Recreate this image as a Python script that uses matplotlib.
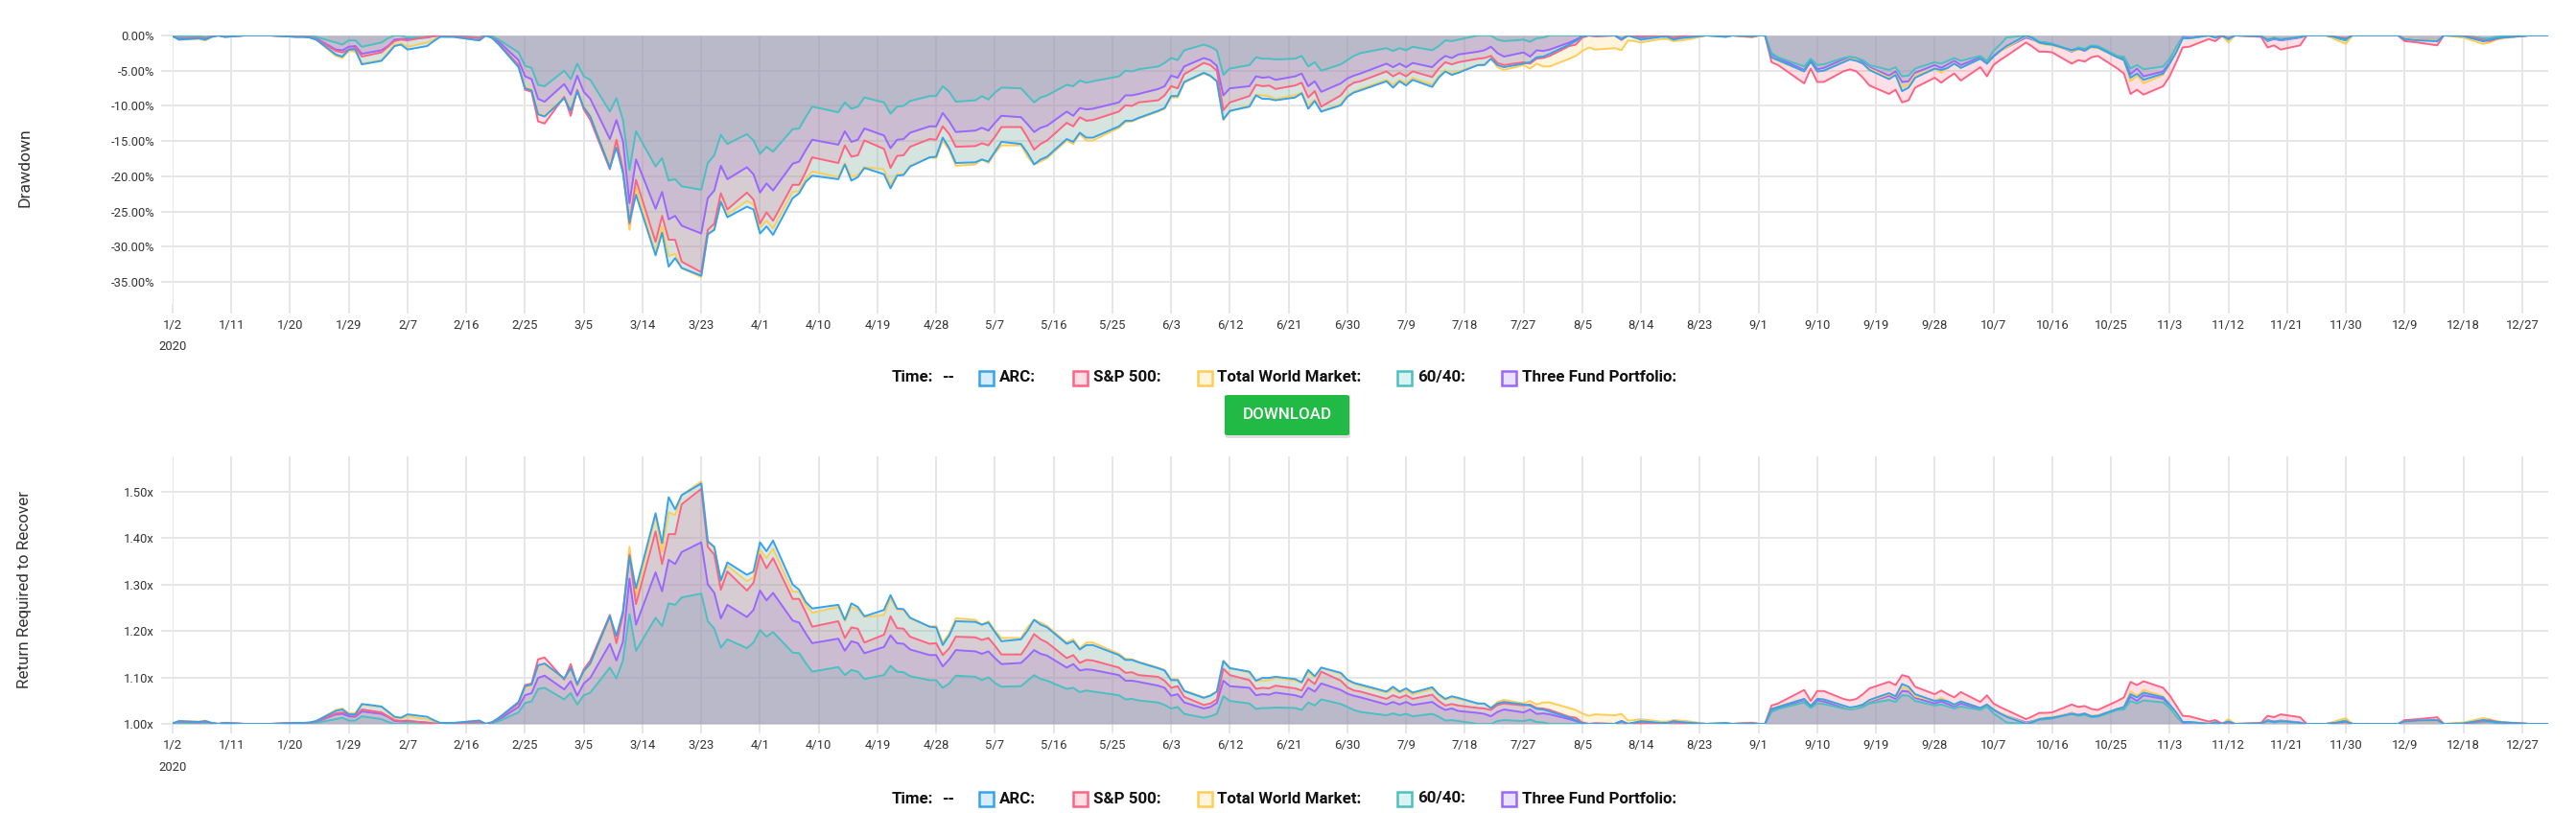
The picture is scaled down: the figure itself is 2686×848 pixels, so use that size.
import matplotlib
matplotlib.use("Agg")
import matplotlib.pyplot as plt
from matplotlib.patches import Rectangle, FancyBboxPatch
import pandas as pd
import numpy as np

# drawdown in % (trading days, 2020)
dates = ["01-02", "01-03", "01-06", "01-07", "01-08", "01-09", "01-10", "01-13", "01-17", "01-21",
         "01-22", "01-23", "01-24", "01-27", "01-28", "01-29", "01-30", "01-31", "02-03", "02-04",
         "02-05", "02-06", "02-07", "02-10", "02-11", "02-12", "02-13", "02-14", "02-18", "02-19",
         "02-20", "02-21", "02-24", "02-25", "02-26", "02-27", "02-28", "03-02", "03-03", "03-04",
         "03-05", "03-06", "03-09", "03-10", "03-11", "03-12", "03-13", "03-16", "03-17", "03-18",
         "03-19", "03-20", "03-23", "03-24", "03-25", "03-26", "03-27", "03-30", "03-31", "04-01",
         "04-02", "04-03", "04-06", "04-07", "04-08", "04-09", "04-13", "04-14", "04-15", "04-16",
         "04-17", "04-20", "04-21", "04-22", "04-23", "04-24", "04-27", "04-28", "04-29", "04-30",
         "05-01", "05-04", "05-05", "05-06", "05-07", "05-08", "05-11", "05-12", "05-13", "05-14",
         "05-15", "05-18", "05-19", "05-20", "05-21", "05-22", "05-26", "05-27", "05-28", "05-29",
         "06-01", "06-02", "06-03", "06-04", "06-05", "06-08", "06-09", "06-10", "06-11", "06-12",
         "06-15", "06-16", "06-17", "06-18", "06-19", "06-22", "06-23", "06-24", "06-25", "06-26",
         "06-29", "06-30", "07-01", "07-02", "07-06", "07-07", "07-08", "07-09", "07-10", "07-13",
         "07-14", "07-15", "07-16", "07-17", "07-20", "07-21", "07-22", "07-23", "07-24", "07-27",
         "07-28", "07-29", "07-30", "07-31", "08-03", "08-04", "08-05", "08-06", "08-07", "08-10",
         "08-11", "08-12", "08-13", "08-14", "08-17", "08-18", "08-19", "08-20", "08-21", "08-24",
         "08-27", "08-28", "08-31", "09-01", "09-02", "09-03", "09-04", "09-08", "09-09", "09-10",
         "09-11", "09-14", "09-15", "09-16", "09-17", "09-18", "09-21", "09-22", "09-23", "09-24",
         "09-25", "09-28", "09-29", "09-30", "10-01", "10-02", "10-05", "10-06", "10-07", "10-08",
         "10-09", "10-12", "10-13", "10-14", "10-15", "10-16", "10-19", "10-20", "10-21", "10-22",
         "10-23", "10-26", "10-27", "10-28", "10-29", "10-30", "11-02", "11-03", "11-04", "11-05",
         "11-06", "11-09", "11-10", "11-11", "11-12", "11-13", "11-17", "11-18", "11-19", "11-20",
         "11-23", "11-24", "11-27", "11-30", "12-01", "12-08", "12-09", "12-10", "12-11", "12-14",
         "12-15", "12-18", "12-21", "12-22", "12-23", "12-24", "12-28", "12-31"]

arc = [-0.1, -0.6, -0.4, -0.6, -0.2, 0, -0.2, 0, 0, -0.2,
       -0.2, -0.3, -0.6, -2.7, -3.0, -2.0, -2.0, -4.1, -3.6, -2.6,
       -1.5, -1.3, -2.0, -1.5, -0.8, -0.2, -0.2, -0.2, -0.7, 0,
       -0.4, -1.3, -4.5, -7.5, -7.8, -11.2, -11.5, -8.9, -10.7, -7.9,
       -10.2, -11.5, -18.8, -15.9, -19.5, -26.5, -22.6, -31.2, -28.0, -32.8,
       -31.6, -33.0, -34.1, -28.2, -27.6, -23.6, -25.8, -24.3, -24.7, -28.1,
       -27.1, -28.3, -23.1, -22.4, -20.8, -19.9, -20.4, -18.3, -20.6, -20.1,
       -18.8, -19.7, -21.7, -19.9, -19.8, -18.6, -17.3, -17.2, -14.5, -16.0,
       -18.1, -18.0, -17.6, -17.9, -16.5, -15.1, -15.4, -16.7, -18.3, -17.6,
       -17.2, -14.7, -15.1, -13.8, -14.5, -14.5, -12.9, -12.1, -12.1, -11.7,
       -10.7, -10.3, -8.6, -8.6, -6.6, -5.3, -5.7, -6.5, -11.9, -10.7,
       -10.1, -8.5, -9.0, -9.0, -9.2, -8.8, -8.2, -10.4, -9.3, -10.8,
       -9.9, -8.7, -8.1, -7.8, -6.5, -7.4, -6.5, -7.1, -6.3, -7.3,
       -6.0, -5.1, -5.6, -5.3, -4.2, -4.2, -3.3, -4.2, -4.5, -4.0,
       -3.8, -3.1, -3.0, -2.6, -1.3, -0.8, -0.1, 0, 0, 0,
       -0.5, 0, -0.3, -0.6, -0.2, -0.2, -0.6, -0.4, -0.3, 0,
       -0.2, 0, -0.1, 0, 0, -3.1, -3.5, -5.1, -3.7, -5.1,
       -5.0, -3.8, -3.4, -3.6, -4.0, -4.9, -6.2, -5.6, -7.9, -7.4,
       -6.0, -4.7, -4.9, -4.6, -4.0, -4.6, -3.3, -4.0, -3.0, -2.2,
       -1.5, 0, -0.4, -1.0, -1.2, -1.3, -2.1, -1.9, -2.1, -1.6,
       -1.7, -3.1, -3.5, -6.0, -5.4, -6.3, -5.4, -4.0, -2.4, -0.4,
       -0.4, 0, -0.3, 0, -0.5, 0, -0.1, -0.6, -0.4, -0.6,
       -0.2, 0, 0, -0.5, 0, 0, -0.5, -0.6, -0.7, -0.8,
       0, -0.1, -0.8, -0.6, -0.4, -0.3, 0, 0]

sp500 = [-0.1, -0.5, -0.3, -0.5, -0.1, 0, -0.2, 0, 0, -0.2,
         -0.2, -0.2, -0.5, -2.2, -2.4, -2.0, -1.7, -3.0, -2.4, -1.6,
         -0.8, -0.6, -0.7, -0.2, -0.1, 0, -0.1, -0.1, -0.4, 0,
         -0.3, -1.2, -4.2, -7.7, -8.0, -12.2, -12.5, -8.7, -11.4, -7.7,
         -10.5, -12.0, -19.0, -14.8, -19.0, -26.7, -20.5, -29.3, -25.6, -29.0,
         -29.0, -32.1, -33.6, -27.6, -26.7, -22.4, -24.7, -22.3, -23.3, -26.7,
         -25.1, -26.3, -21.2, -21.2, -19.4, -17.3, -18.1, -15.6, -17.2, -17.0,
         -14.9, -16.1, -18.8, -17.1, -17.0, -15.8, -14.7, -14.8, -12.9, -14.0,
         -15.8, -15.7, -15.3, -15.6, -14.4, -13.0, -13.0, -14.5, -16.2, -15.4,
         -14.9, -12.4, -12.9, -11.6, -12.1, -12.0, -10.8, -9.9, -10.0, -9.5,
         -9.2, -8.5, -7.2, -7.5, -5.5, -3.9, -4.2, -5.0, -10.6, -9.5,
         -8.6, -7.0, -7.2, -7.1, -7.6, -7.1, -6.7, -8.8, -7.9, -10.1,
         -8.5, -7.3, -6.7, -6.5, -5.1, -5.8, -5.3, -5.8, -5.1, -5.9,
         -4.7, -3.8, -4.1, -3.8, -3.3, -3.2, -2.9, -3.9, -4.2, -3.8,
         -4.0, -3.3, -3.2, -2.9, -1.5, -1.3, -0.3, 0, -0.1, 0,
         -0.6, 0, -0.1, -0.1, 0, 0, -0.4, -0.1, 0, 0,
         0, 0, -0.2, 0, 0, -3.8, -4.2, -6.8, -4.7, -6.6,
         -6.6, -5.1, -4.8, -5.1, -6.0, -7.1, -8.3, -7.7, -9.5, -9.2,
         -7.4, -6.0, -6.7, -6.0, -5.4, -6.4, -4.5, -5.8, -4.2, -3.5,
         -2.9, -1.0, -1.6, -2.3, -2.3, -2.4, -4.0, -3.5, -3.7, -3.1,
         -2.9, -4.7, -5.4, -8.3, -7.7, -8.4, -7.2, -5.8, -3.8, -1.7,
         -1.6, -0.5, -0.8, -0.1, -0.4, 0, -0.2, -1.7, -1.4, -2.0,
         -1.4, 0, 0, -0.4, 0, 0, -0.8, -0.9, -1.0, -1.4,
         0, 0, -0.6, -0.8, -0.5, -0.3, 0, 0]

world = [-0.1, -0.6, -0.5, -0.7, -0.2, 0, -0.2, 0, 0, -0.2,
         -0.2, -0.3, -0.6, -2.9, -3.2, -2.2, -2.3, -4.0, -3.5, -2.4,
         -1.3, -1.1, -1.6, -1.0, -0.6, -0.1, -0.2, -0.2, -0.7, 0,
         -0.4, -1.3, -4.4, -7.3, -7.6, -11.0, -11.4, -8.8, -10.5, -7.8,
         -10.0, -11.4, -18.5, -14.9, -19.2, -27.6, -21.6, -30.9, -27.0, -31.3,
         -31.0, -33.0, -34.3, -28.3, -27.4, -23.5, -25.4, -23.5, -24.0, -27.3,
         -26.3, -27.4, -22.2, -22.1, -20.4, -19.3, -20.1, -18.1, -20.1, -19.8,
         -18.7, -19.0, -21.3, -19.7, -19.7, -18.5, -17.3, -17.4, -14.9, -16.3,
         -18.5, -18.3, -17.6, -18.1, -16.7, -15.6, -15.6, -17.2, -18.3, -17.9,
         -17.4, -14.9, -15.4, -14.0, -14.9, -14.9, -13.1, -12.3, -12.2, -11.8,
         -10.8, -10.4, -8.8, -8.8, -6.7, -5.4, -5.8, -6.5, -12.0, -10.8,
         -9.9, -8.4, -8.5, -8.6, -9.0, -8.5, -8.1, -10.0, -9.1, -10.8,
         -9.7, -8.5, -8.0, -7.6, -6.3, -7.0, -6.3, -6.8, -6.0, -7.0,
         -5.8, -4.9, -5.4, -5.1, -4.2, -4.1, -3.3, -4.5, -4.9, -4.2,
         -4.7, -4.0, -4.4, -4.4, -3.3, -2.9, -2.2, -1.7, -2.0, -1.8,
         -2.1, -0.7, -0.8, -1.0, -0.5, -0.5, -0.8, -0.7, -0.6, 0,
         -0.2, 0, -0.3, 0, 0, -3.1, -3.6, -5.1, -3.8, -5.1,
         -5.0, -3.7, -3.3, -3.5, -4.0, -4.7, -6.0, -5.5, -7.3, -7.0,
         -5.6, -4.7, -5.3, -4.6, -3.9, -4.6, -3.3, -4.0, -3.0, -2.3,
         -1.7, -0.1, -0.5, -1.1, -1.3, -1.4, -2.2, -2.0, -2.1, -1.7,
         -1.8, -3.1, -3.5, -6.5, -5.7, -6.8, -5.6, -4.0, -2.2, -0.4,
         -0.4, 0, -0.3, 0, -1.0, 0, -0.1, -0.6, -0.4, -0.6,
         -0.2, 0, 0, -1.2, 0, 0, -0.4, -0.5, -0.6, -0.7,
         0, -0.3, -1.2, -1.0, -0.6, -0.4, 0, 0]

sixty_forty = [0, -0.1, -0.1, -0.2, -0.1, 0, -0.1, 0, 0, -0.1,
               -0.1, -0.1, -0.2, -1.0, -1.3, -0.7, -0.7, -1.6, -1.0, -0.4,
               0, 0, -0.3, -0.2, -0.1, 0, -0.1, -0.1, -0.3, 0,
               -0.1, -0.6, -2.4, -4.3, -4.6, -7.0, -7.2, -5.0, -6.2, -4.0,
               -5.8, -6.3, -10.8, -8.9, -12.0, -19.1, -13.6, -18.6, -17.4, -20.6,
               -20.4, -21.4, -21.9, -18.1, -17.0, -14.1, -15.4, -14.0, -14.9, -16.8,
               -15.8, -16.5, -13.3, -13.2, -11.6, -10.1, -10.9, -9.5, -10.4, -10.1,
               -8.8, -9.5, -11.1, -10.1, -10.0, -9.3, -8.6, -8.6, -7.2, -8.0,
               -9.4, -9.2, -8.6, -9.1, -8.1, -7.4, -7.5, -8.5, -9.5, -8.8,
               -8.5, -7.0, -7.2, -6.4, -6.7, -6.5, -5.8, -5.0, -5.1, -4.8,
               -4.4, -3.9, -3.2, -3.5, -2.1, -1.3, -1.6, -2.1, -5.6, -4.7,
               -4.2, -3.1, -3.3, -3.3, -3.4, -3.3, -2.9, -4.4, -3.8, -5.0,
               -4.1, -3.5, -2.9, -2.5, -1.8, -2.2, -1.8, -2.1, -1.6, -2.1,
               -1.5, -0.7, -0.8, -0.6, 0, 0, 0, -0.6, -0.8, -0.6,
               -0.9, -0.4, -0.3, 0, 0, 0, 0, 0, 0, 0,
               -0.6, 0, -0.1, -0.2, 0, 0, -0.2, -0.1, -0.1, 0,
               -0.1, 0, -0.1, 0, 0, -2.5, -3.1, -4.4, -3.3, -4.2,
               -4.1, -3.2, -3.0, -3.2, -3.5, -4.2, -4.9, -4.5, -5.8, -5.7,
               -4.7, -3.8, -4.0, -3.6, -3.2, -3.6, -2.9, -3.6, -2.2, -1.3,
               -0.3, 0, -0.3, -0.9, -1.0, -1.2, -2.1, -1.7, -1.9, -1.4,
               -1.5, -2.9, -3.0, -4.7, -4.2, -4.8, -4.4, -3.3, -1.7, -0.3,
               -0.4, 0, -0.3, 0, -0.6, 0, 0, -0.8, -0.3, -0.5,
               -0.2, 0, 0, -0.7, 0, 0, -0.6, -0.6, -0.6, -0.8,
               0, 0, -0.4, -0.4, -0.2, -0.1, 0, 0]

three_fund = [-0.1, -0.4, -0.3, -0.4, -0.1, 0, -0.1, 0, 0, -0.1,
              -0.1, -0.2, -0.4, -2.0, -2.1, -1.6, -1.5, -2.6, -2.1, -1.5,
              -0.6, -0.5, -0.5, -0.3, -0.1, 0, -0.1, -0.1, -0.3, 0,
              -0.2, -0.9, -3.5, -5.8, -6.2, -9.0, -9.4, -6.9, -8.4, -5.7,
              -8.0, -9.0, -14.7, -12.0, -15.0, -23.8, -17.6, -24.6, -22.2, -26.1,
              -25.6, -27.0, -28.1, -23.1, -22.0, -18.5, -20.4, -18.7, -19.7, -22.3,
              -21.0, -22.0, -18.2, -17.9, -16.3, -14.8, -15.5, -13.6, -15.1, -14.8,
              -13.2, -14.2, -16.0, -14.8, -14.7, -13.8, -12.9, -12.9, -11.0, -12.2,
              -13.7, -13.5, -13.1, -13.5, -12.4, -11.4, -11.6, -12.6, -13.7, -13.1,
              -12.8, -10.8, -11.4, -10.3, -10.5, -10.4, -9.5, -8.5, -8.5, -8.3,
              -7.6, -7.2, -5.7, -6.0, -4.4, -3.2, -3.5, -4.3, -8.5, -7.5,
              -7.2, -5.8, -6.0, -5.9, -6.3, -5.8, -5.4, -7.2, -6.5, -8.0,
              -6.8, -6.1, -5.7, -5.4, -4.0, -4.5, -4.0, -4.5, -3.9, -4.5,
              -3.6, -2.9, -3.2, -2.7, -2.3, -2.1, -1.6, -2.5, -3.0, -2.4,
              -3.0, -2.1, -2.2, -2.0, -1.0, -0.6, -0.1, 0, -0.1, 0,
              -0.6, 0, -0.1, -0.3, -0.1, -0.1, -0.4, -0.2, -0.1, 0,
              0, 0, -0.1, 0, 0, -2.7, -3.2, -4.9, -3.5, -4.8,
              -4.6, -3.4, -3.1, -3.2, -3.8, -4.5, -5.7, -5.1, -6.6, -6.5,
              -5.3, -4.2, -4.6, -4.1, -3.6, -4.2, -3.1, -3.8, -2.9, -2.2,
              -1.7, -0.3, -0.6, -1.0, -1.0, -1.2, -2.3, -1.9, -2.2, -1.6,
              -1.7, -3.1, -3.3, -5.5, -4.7, -5.8, -5.1, -3.8, -1.7, -0.2,
              -0.3, 0, -0.3, 0, -0.4, 0, 0, -0.8, -0.5, -0.7,
              -0.3, 0, 0, -0.7, 0, 0, -0.4, -0.5, -0.6, -0.7,
              0, 0, -0.8, -0.7, -0.4, -0.3, 0, 0]

names = ["ARC", "S&P 500", "Total World Market", "60/40", "Three Fund Portfolio"]
series = [arc, sp500, world, sixty_forty, three_fund]
line_colors = ["#36a2eb", "#ff6384", "#ffcd56", "#4bc0c0", "#9966ff"]
fill_colors = [(54/255, 162/255, 235/255, 0.2), (1, 99/255, 132/255, 0.2),
               (1, 205/255, 86/255, 0.2), (75/255, 192/255, 192/255, 0.2),
               (153/255, 102/255, 1, 0.2)]

dd_ticks = [0, -5, -10, -15, -20, -25, -30, -35]
rec_ticks = [1.0, 1.1, 1.2, 1.3, 1.4, 1.5]

x = pd.to_datetime(["2020-" + d for d in dates])
x_ticks = pd.date_range("2020-01-02", "2020-12-31", freq="9D")

W, H = 2686, 848
fig = plt.figure(figsize=(W / 100, H / 100), dpi=100)

def px(xp, yp):
    return xp / W, 1 - yp / H

def axbox(l, t, r, b):
    return [l / W, 1 - b / H, (r - l) / W, (b - t) / H]

font = ["Roboto", "DejaVu Sans"]
grid_c = "#e6e6e6"
text_c = "#333333"

def setup(ax, yticks, fmt):
    ax.set_xlim(pd.Timestamp("2020-01-02"), pd.Timestamp("2020-12-31"))
    ax.set_xticks(x_ticks)
    ax.set_xticklabels([f"{d.month}/{d.day}" for d in x_ticks])
    ax.set_yticks(yticks)
    ax.set_yticklabels([fmt(v) for v in yticks])
    ax.grid(True, color=grid_c, lw=1.4)
    ax.set_axisbelow(True)
    for s in ax.spines.values():
        s.set_visible(False)
    ax.tick_params(axis="y", length=8.6, width=1.4, color=grid_c, pad=5,
                   labelsize=9.4, labelcolor=text_c)
    ax.tick_params(axis="x", length=7.2, width=1.4, color=grid_c, pad=4.5,
                   labelsize=9.4, labelcolor=text_c)
    for lab in ax.get_xticklabels() + ax.get_yticklabels():
        lab.set_family(font)

# top: drawdown
ax1 = fig.add_axes(axbox(180, 37, 2657, 317))
for i in range(4, -1, -1):
    v = np.array(series[i])
    ax1.fill_between(x, v, 0, color=fill_colors[i], lw=0)
    ax1.plot(x, v, color=line_colors[i], lw=1.4)
ax1.set_ylim(-38.1, 0)
setup(ax1, dd_ticks, lambda v: f"{v:.2f}%")

# bottom: return required to recover
ax2 = fig.add_axes(axbox(180, 476, 2657, 755))
for i in range(4, -1, -1):
    r = 1 / (1 + np.array(series[i]) / 100)
    ax2.fill_between(x, r, 1, color=fill_colors[i], lw=0)
    ax2.plot(x, r, color=line_colors[i], lw=1.4)
ax2.set_ylim(1.0, 1.576)
setup(ax2, rec_ticks, lambda v: f"{v:.2f}x")

for yy in (362, 800):
    fig.text(*px(180, yy), "2020", ha="center", va="center", fontsize=9.4,
             color=text_c, family=font)

fig.text(*px(26, 175), "Drawdown", rotation=90, ha="center", va="center",
         fontsize=12.6, color=text_c, family=font)
fig.text(*px(26, 615), "Return Required to Recover", rotation=90, ha="center",
         va="center", fontsize=12.3, color=text_c, family=font)

# legends
box_x = [1020, 1118, 1248, 1456, 1565]
label_x = [1042, 1140, 1269, 1478, 1587]

def legend(yc):
    fig.text(*px(930, yc), "Time:", ha="left", va="center", fontsize=12.2,
             fontweight="bold", color="#111111", family=font)
    fig.text(*px(982, yc), "--", ha="left", va="center", fontsize=12.2,
             fontweight="bold", color="#111111", family=font)
    for i in range(5):
        l, b = px(box_x[i] + 1, yc + 7.5)
        fig.add_artist(Rectangle((l, b), 15 / W, 15 / H, transform=fig.transFigure,
                                 facecolor=fill_colors[i], edgecolor=line_colors[i], lw=1.8))
        fig.text(*px(label_x[i], yc), names[i] + ":", ha="left", va="center",
                 fontsize=12.2, fontweight="bold", color="#111111", family=font)

legend(394)
legend(833)

# download button
sl, sb = px(1278, 457)
fig.add_artist(FancyBboxPatch((sl, sb), 130 / W, 43 / H, transform=fig.transFigure,
                              boxstyle="round,pad=0,rounding_size=0.0015",
                              facecolor=(0, 0, 0, 0.13), edgecolor="none"))
bl, bb = px(1277, 454)
fig.add_artist(FancyBboxPatch((bl, bb), 130 / W, 42 / H, transform=fig.transFigure,
                              boxstyle="round,pad=0,rounding_size=0.0015",
                              facecolor="#21ba45", edgecolor="none"))
fig.text(*px(1342, 433), "DOWNLOAD", ha="center", va="center", fontsize=12.2,
         fontweight="medium", color="white", family=font)

fig.savefig("out.png", dpi=100)
